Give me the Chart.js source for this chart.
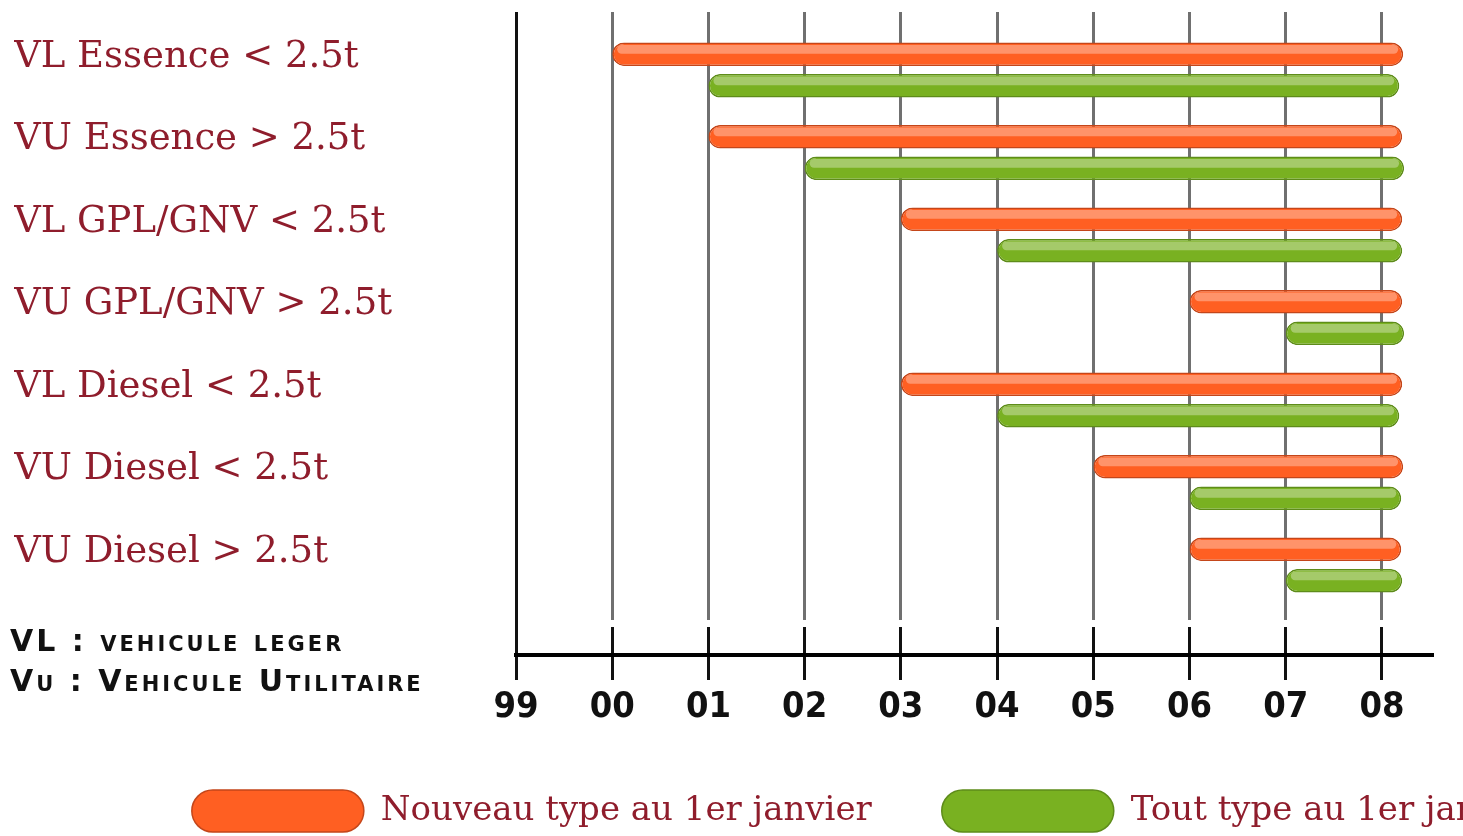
<!DOCTYPE html>
<html>
<head>
<meta charset="utf-8">
<script src="https://cdn.jsdelivr.net/npm/chart.js@4.4.1/dist/chart.umd.min.js"></script>
<style>
  html, body { margin: 0; padding: 0; background: #fff; overflow: hidden; }
</style>
</head>
<body>
<canvas id="VehicleChart"></canvas>
<script>
// categories (rows) and the two series
var categories = ['VL Essence < 2.5t', 'VU Essence > 2.5t', 'VL GPL/GNV < 2.5t', 'VU GPL/GNV > 2.5t',
                  'VL Diesel < 2.5t', 'VU Diesel < 2.5t', 'VU Diesel > 2.5t'];
var seriesNames = ['Nouveau type au 1er janvier', 'Tout type au 1er janvier'];

// start / end years
var newTypeStart = [2000, 2001, 2003, 2006, 2003, 2005, 2006];
var newTypeEnd   = [2008.22, 2008.21, 2008.21, 2008.21, 2008.21, 2008.22, 2008.2];
var allTypeStart = [2001, 2002, 2004, 2007, 2004, 2006, 2007];
var allTypeEnd   = [2008.18, 2008.23, 2008.21, 2008.23, 2008.18, 2008.2, 2008.21];

var yearLabels = ['99', '00', '01', '02', '03', '04', '05', '06', '07', '08'];
var firstYear = 1999;

var notes = ['VL : vehicule leger', 'Vu : Vehicule Utilitaire'];

var labelColor = '#8f1d2c';
var legendFont = {family: 'DejaVu Serif', size: 34};

function toBars(starts, ends) {
  return starts.map(function (s, i) {
    return {x: [s, ends[i]], y: i};
  });
}

// legend is one row; canvas is wider than the window so the 2nd item is clipped like the original
var m = document.createElement('canvas').getContext('2d');
m.font = legendFont.size + 'px "' + legendFont.family + '"';
var rowW = 0;
seriesNames.forEach(function (n) {
  rowW += 172 + legendFont.size / 2 + m.measureText(n).width + 70;
});
var W = Math.round(300 + rowW);

var canvas = document.getElementById('VehicleChart');
canvas.width = W;
canvas.height = 842;

// light upper half on every pill
var gloss = {
  id: 'gloss',
  afterDatasetsDraw: function (chart) {
    var ctx = chart.ctx;
    chart.data.datasets.forEach(function (ds, i) {
      chart.getDatasetMeta(i).data.forEach(function (bar) {
        var p = bar.getProps(['x', 'y', 'base', 'height'], true);
        var l = Math.min(p.x, p.base) + 5, r = Math.max(p.x, p.base) - 5;
        var t = p.y - p.height / 2 + 2.5, h = p.height / 2 - 3;
        ctx.save();
        ctx.fillStyle = 'rgba(255,255,255,0.33)';
        ctx.beginPath();
        ctx.roundRect(l, t, r - l, h, h / 2);
        ctx.fill();
        ctx.restore();
      });
    });
  }
};

// abbreviation notes under the row labels
var abbrev = {
  id: 'abbrev',
  afterDraw: function (chart) {
    var ctx = chart.ctx;
    ctx.save();
    ctx.fillStyle = '#111';
    ctx.font = 'small-caps bold 30px "DejaVu Sans"';
    ctx.letterSpacing = '3px';
    ctx.textBaseline = 'middle';
    ctx.textAlign = 'left';
    ctx.fillText(notes[0], 10, 643);
    ctx.fillText(notes[1], 10, 683);
    ctx.restore();
  }
};

function gridColor(c) {
  if (c.index === 0) return '#111';
  var a = c.chart.chartArea;
  if (!a) return '#707070';
  var g = c.chart.ctx.createLinearGradient(0, a.top, 0, a.bottom);
  var f1 = (a.height - 35) / a.height, f2 = (a.height - 28) / a.height;
  g.addColorStop(0, '#707070');
  g.addColorStop(f1, '#707070');
  g.addColorStop(f1, 'rgba(0,0,0,0)');
  g.addColorStop(f2, 'rgba(0,0,0,0)');
  g.addColorStop(f2, '#111');
  g.addColorStop(1, '#111');
  return g;
}

var chart = new Chart(canvas.getContext('2d'), {
  type: 'bar',
  data: {
    datasets: [{
      label: seriesNames[0],
      data: toBars(newTypeStart, newTypeEnd),
      backgroundColor: '#ff5f22',
      borderColor: '#c4461a',
      borderWidth: 1.5
    }, {
      label: seriesNames[1],
      data: toBars(allTypeStart, allTypeEnd),
      backgroundColor: '#79b121',
      borderColor: '#5e8c1a',
      borderWidth: 1.5
    }]
  },
  options: {
    indexAxis: 'y',
    responsive: false,
    animation: false,
    barPercentage: 0.75,
    categoryPercentage: 0.765,
    borderRadius: 20,
    borderSkipped: false,
    layout: {padding: {top: 12, left: 14, right: 0, bottom: 0}},
    scales: {
      x: {
        type: 'linear',
        position: 'bottom',
        min: firstYear,
        max: 2008.52,
        afterFit: function (s) { s.height = 65; s.paddingLeft = 0; s.paddingRight = 0; },
        grid: {
          color: gridColor,
          lineWidth: 3,
          tickColor: '#111',
          tickWidth: 3,
          tickLength: 25
        },
        border: {color: '#000', width: 4},
        ticks: {
          stepSize: 1,
          includeBounds: false,
          padding: 6,
          color: '#111',
          font: {family: '"Liberation Sans Narrow", "DejaVu Sans Condensed", "DejaVu Sans", sans-serif', size: 36, weight: 'bold'},
          callback: function (v) { return yearLabels[v - firstYear]; }
        }
      },
      y: {
        type: 'linear',
        position: 'left',
        reverse: true,
        offset: false,
        min: -0.703,
        max: 7.091,
        afterFit: function (s) { s.width = 502; s.paddingTop = 0; s.paddingBottom = 0; },
        grid: {display: false, offset: false},
        border: {display: false},
        ticks: {
          stepSize: 1,
          includeBounds: false,
          crossAlign: 'far',
          labelOffset: -13,
          color: labelColor,
          font: {family: 'DejaVu Serif', size: 37},
          callback: function (v) { return categories[v] || ''; }
        }
      },
      pad: {
        type: 'linear',
        position: 'right',
        afterFit: function (s) { s.width = W - 1432; s.paddingTop = 0; s.paddingBottom = 0; },
        grid: {display: false},
        border: {display: false},
        ticks: {display: false}
      }
    },
    plugins: {
      legend: {
        position: 'bottom',
        align: 'center',
        labels: {
          boxWidth: 172,
          boxHeight: 42,
          useBorderRadius: true,
          borderRadius: 21,
          padding: 70,
          color: labelColor,
          font: legendFont
        }
      },
      tooltip: {enabled: true}
    }
  },
  plugins: [gloss, abbrev]
});
</script>
</body>
</html>
